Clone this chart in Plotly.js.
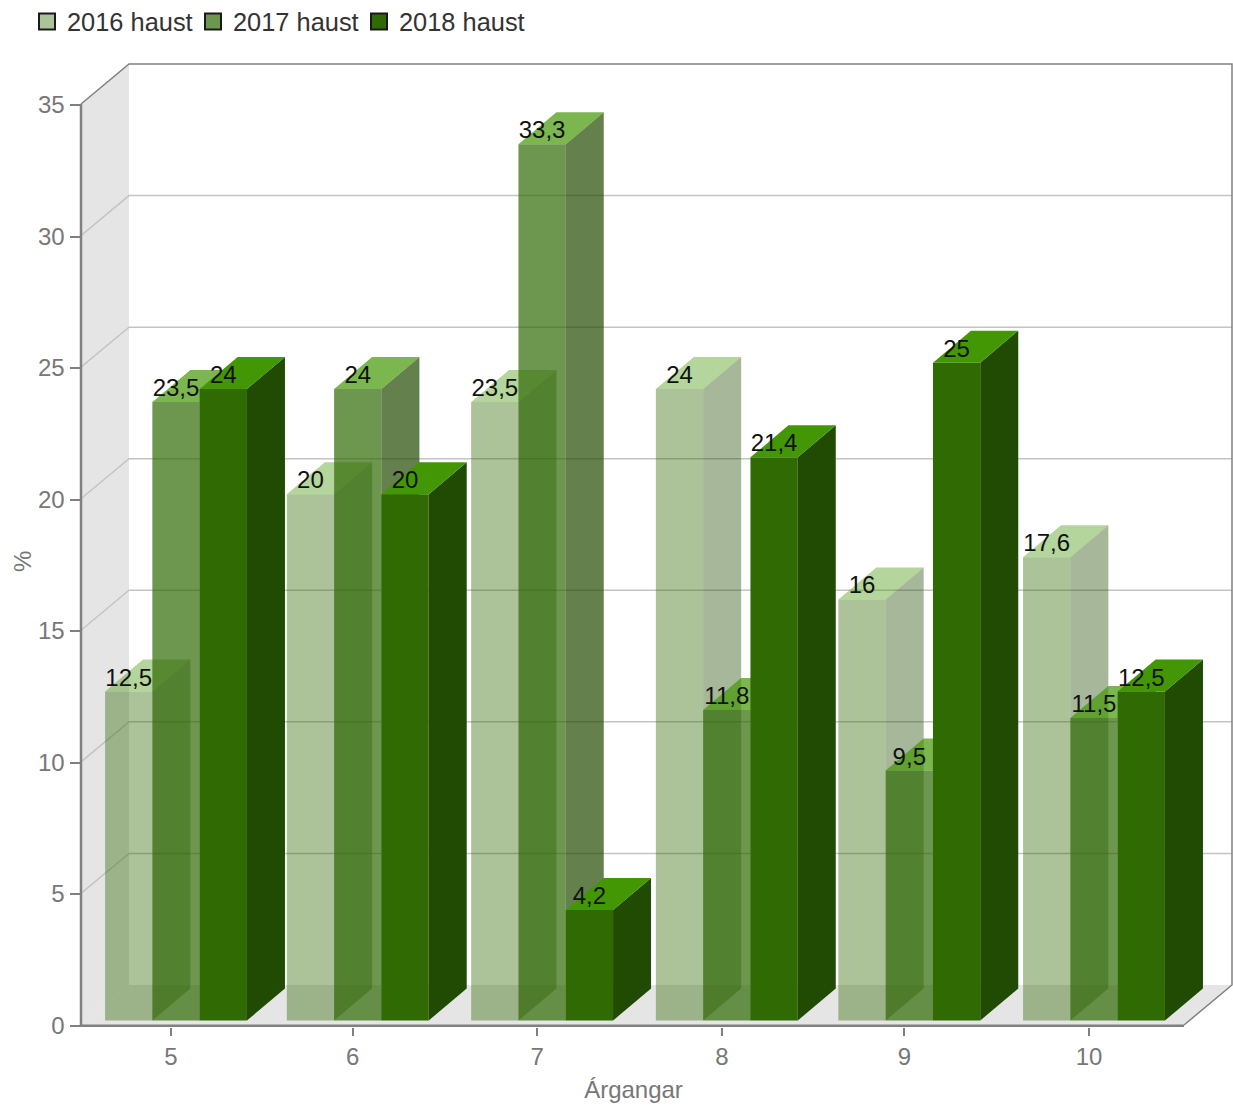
<!DOCTYPE html>
<html><head><meta charset="utf-8">
<script src="https://cdn.plot.ly/plotly-3.0.1.min.js"></script>
<style>html,body{margin:0;padding:0;background:#fff}</style></head>
<body><div id="chart" style="width:1233px;height:1107px"></div>
<script>
const categories = ["5","6","7","8","9","10"];
const seriesNames = ["2016 haust","2017 haust","2018 haust"];
const values2016 = [12.5,20,23.5,24,16,17.6];
const values2017 = [23.5,24,33.3,11.8,9.5,11.5];
const values2018 = [24,20,4.2,21.4,25,12.5];
const yTicks = [0,5,10,15,20,25,30,35];

const allValues = [values2016,values2017,values2018];
const alphas = [0.4,0.7,1];
const frontRGB="47,106,3", sideRGB="33,74,2", topRGB="67,151,4";
const legendColors=["#acc39a","#6d964e","#2f6a03"];
const W=1233,H=1107,plotL=70,plotR=1233,plotT=60,plotB=1032,zeroY=1025;
const PX=183.6, PY=921/35;              // pixels per x / y axis unit
const xAt=p=>(p-171)/PX;                // page pixel -> group index
const groupSnap=[0,-0.01,-0.006,0,-0.006,0]; // whole-pixel rounding of the group slots
const groupX=categories.map((c,i)=>i+groupSnap[i]);
const wallL=xAt(81), wallR=xAt(1184), wallDx=48/PX, wallDy=40/PY;
const shiftX=5/PX, shiftY=4.5/PY;
const barW=47.3/PX, depthX=38/PX, depthY=32/PY;
const groupLeft=-1.5*barW+shiftX;
const fmt=v=>String(v).replace(".",",");
const traces=[];
const common={hoverinfo:"skip",showlegend:false,cliponaxis:false};

// walls and floor
function poly(xs,ys,color,z){traces.push({...common,type:"scatter",mode:"lines",x:xs,y:ys,fill:"toself",fillcolor:color,line:{width:0},zorder:z});}
function line(xs,ys,color,w,z){traces.push({...common,type:"scatter",mode:"lines",x:xs,y:ys,line:{color:color,width:w},zorder:z});}
poly([wallL,wallL+wallDx,wallL+wallDx,wallL],[0,wallDy,35+wallDy,35],"#e5e5e5",-3);
poly([wallL,wallR,wallR+wallDx,wallL+wallDx],[0,0,wallDy,wallDy],"#e5e5e5",-3);
yTicks.slice(1,-1).forEach(t=>line([wallL,wallL+wallDx,wallR+wallDx],[t,t+wallDy,t+wallDy],"#c4c4c4",1.5,-2));
line([wallL,wallL+wallDx,wallR+wallDx,wallR+wallDx,wallR],[35,35+wallDy,35+wallDy,wallDy,0],"#808080",1.5,-2);
// front axis lines
line([wallL,wallL,wallR],[35,-0.7/PY,-0.7/PY],"#808080",2.5,-1);

// bars
allValues.forEach((vals,s)=>{
  const a=alphas[s];
  const left=groupX.map(g=>g+groupLeft+s*barW);
  traces.push({...common,type:"bar",x:groupX,y:vals,base:vals.map(()=>shiftY),width:barW,offset:groupLeft+s*barW,
    marker:{color:`rgba(${frontRGB},${a})`,line:{width:0}},zorder:s});
  const sx=[],sy=[],tx=[],ty=[];
  vals.forEach((v,i)=>{
    const r=left[i]+barW,t=v+shiftY;
    sx.push(r,r+depthX,r+depthX,r,null); sy.push(shiftY,shiftY+depthY,t+depthY,t,null);
    tx.push(left[i],r,r+depthX,left[i]+depthX,null); ty.push(t,t,t+depthY,t+depthY,null);
  });
  poly(sx,sy,`rgba(${sideRGB},${a})`,s);
  poly(tx,ty,`rgba(${topRGB},${a})`,s);
});

// value labels
allValues.forEach((vals,s)=>{
  traces.push({...common,type:"scatter",mode:"text",x:vals.map((v,i)=>groupX[i]+groupLeft+(s+0.5)*barW),y:vals.map(v=>v+shiftY),
    text:vals.map(fmt),textposition:"top center",textfont:{family:"Liberation Sans",size:24,color:"#111"},zorder:10});
});

// legend entries; these also anchor the visible axes
seriesNames.forEach((n,s)=>{
  traces.push({type:"scatter",mode:"markers",name:n,x:[null],y:[null],xaxis:"x2",yaxis:"y2",hoverinfo:"skip",
    marker:{symbol:"square",size:16,color:legendColors[s],line:{color:"#1a1a1a",width:2}}});
});

const tickFont={family:"Liberation Sans",size:24,color:"#777"};
const plotW=plotR-plotL, plotH=plotB-plotT;
const layout={
  width:W,height:H,autosize:false,
  margin:{l:plotL,r:W-plotR,t:plotT,b:H-plotB,pad:0},
  paper_bgcolor:"#fff",plot_bgcolor:"rgba(0,0,0,0)",
  barmode:"overlay",showlegend:true,
  legend:{orientation:"h",xref:"container",yref:"container",x:27/W,xanchor:"left",y:1-22/H,yanchor:"middle",traceorder:"normal",
    font:{family:"Liberation Sans",size:25.4,color:"#333"},entrywidth:121,entrywidthmode:"pixels",bgcolor:"rgba(0,0,0,0)"},
  xaxis:{visible:false,range:[xAt(plotL),xAt(plotR)],domain:[0,1]},
  yaxis:{visible:false,range:[(zeroY-plotB)/PY,(zeroY-plotT)/PY],domain:[0,1]},
  xaxis2:{anchor:"y2",domain:[(82-plotL)/plotW,(1185-plotL)/plotW],range:[xAt(82),xAt(1185)],tickmode:"array",tickvals:groupX,ticktext:categories,
    showgrid:false,zeroline:false,showline:true,linecolor:"#808080",linewidth:2.5,automargin:true,
    ticks:"outside",ticklen:8,tickwidth:2,tickcolor:"#808080",tickfont:tickFont,
    title:{text:"Árgangar",font:tickFont,standoff:13}},
  yaxis2:{anchor:"x2",domain:[(plotB-1025.5)/plotH,(plotB-105)/plotH],range:[0,35],tickmode:"array",tickvals:yTicks,ticktext:yTicks.map(String),
    showgrid:false,zeroline:false,showline:true,linecolor:"#808080",linewidth:2.5,
    ticks:"outside",ticklen:10,tickwidth:2,tickcolor:"#808080",tickfont:tickFont},
  annotations:[{text:"%",xref:"paper",yref:"paper",x:(22-plotL)/plotW,y:(plotB-562)/plotH,xanchor:"center",yanchor:"middle",
    textangle:-90,showarrow:false,font:tickFont}]
};
Plotly.newPlot("chart",traces,layout,{displayModeBar:false,staticPlot:true});
</script></body></html>
